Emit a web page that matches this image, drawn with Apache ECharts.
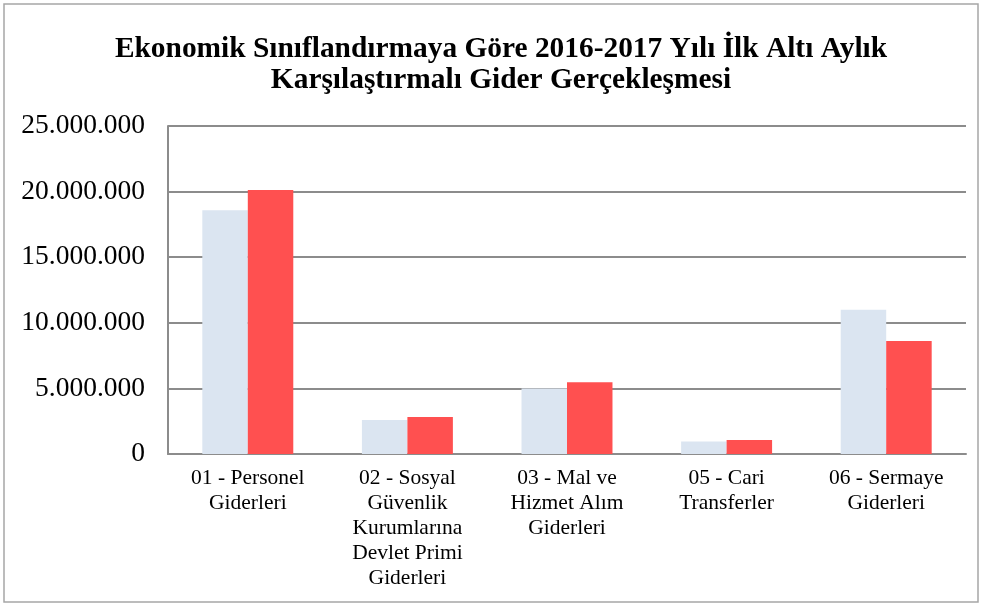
<!DOCTYPE html>
<html>
<head>
<meta charset="utf-8">
<script src="https://cdn.jsdelivr.net/npm/echarts@6/dist/echarts.min.js"></script>
<style>
  html, body { margin: 0; padding: 0; background: #fff; }
  #main { width: 983px; height: 606px; }
</style>
</head>
<body>
<div id="main"></div>
<script>
// kategoriler ve değerler
var kategoriler = [
    '01 - Personel\nGiderleri',
    '02 - Sosyal\nGüvenlik\nKurumlarına\nDevlet Primi\nGiderleri',
    '03 - Mal ve\nHizmet Alım\nGiderleri',
    '05 - Cari\nTransferler',
    '06 - Sermaye\nGiderleri'
];
var seriAdlari = ['2016', '2017'];
var deger2016 = [18570000, 2590000, 5000000, 960000, 11000000];
var deger2017 = [20120000, 2820000, 5460000, 1060000, 8610000];
var yTicks = [0, 5000000, 10000000, 15000000, 20000000, 25000000];

var chart = echarts.init(document.getElementById('main'));

function binlik(v) {
    return String(v).replace(/\B(?=(\d{3})+(?!\d))/g, '.');
}

var option = {
    backgroundColor: '#fff',
    animation: false,
    title: {
        text: 'Ekonomik Sınıflandırmaya Göre 2016-2017 Yılı İlk Altı Aylık\nKarşılaştırmalı Gider Gerçekleşmesi',
        left: 496,
        textAlign: 'center',
        top: 29,
        textStyle: {
            fontFamily: '"Liberation Serif", "DejaVu Serif", serif',
            fontWeight: 'bold',
            fontSize: 29.4,
            lineHeight: 31,
            color: '#000'
        }
    },
    graphic: [{
        type: 'rect',
        shape: { x: 4, y: 4, width: 974, height: 598 },
        style: { fill: 'none', stroke: '#a6a6a6', lineWidth: 1.5 },
        silent: true
    }],
    grid: {
        left: 168,
        right: 17,
        top: 126,
        bottom: 152
    },
    xAxis: {
        type: 'category',
        data: kategoriler,
        axisLine: { show: true, lineStyle: { color: '#8c8c8c', width: 2 } },
        axisTick: { show: false },
        axisLabel: {
            interval: 0,
            margin: 12,
            color: '#000',
            fontFamily: '"Liberation Serif", serif',
            fontSize: 21.5,
            lineHeight: 25
        }
    },
    yAxis: {
        type: 'value',
        min: yTicks[0],
        max: yTicks[yTicks.length - 1],
        interval: 5000000,
        axisLine: { show: true, lineStyle: { color: '#8c8c8c', width: 2 } },
        axisTick: { show: false },
        splitLine: { lineStyle: { color: '#8c8c8c', width: 2 } },
        axisLabel: {
            margin: 23,
            color: '#000',
            fontFamily: '"Liberation Serif", serif',
            fontSize: 27.5,
            formatter: function (v) { return binlik(v); }
        }
    },
    series: [
        {
            name: seriAdlari[0],
            type: 'bar',
            data: deger2016,
            barWidth: '28.5%',
            barGap: '0%',
            itemStyle: { color: '#dbe5f1' }
        },
        {
            name: seriAdlari[1],
            type: 'bar',
            data: deger2017,
            barWidth: '28.5%',
            barGap: '0%',
            itemStyle: { color: '#ff5050' }
        }
    ]
};

chart.setOption(option);
</script>
</body>
</html>
